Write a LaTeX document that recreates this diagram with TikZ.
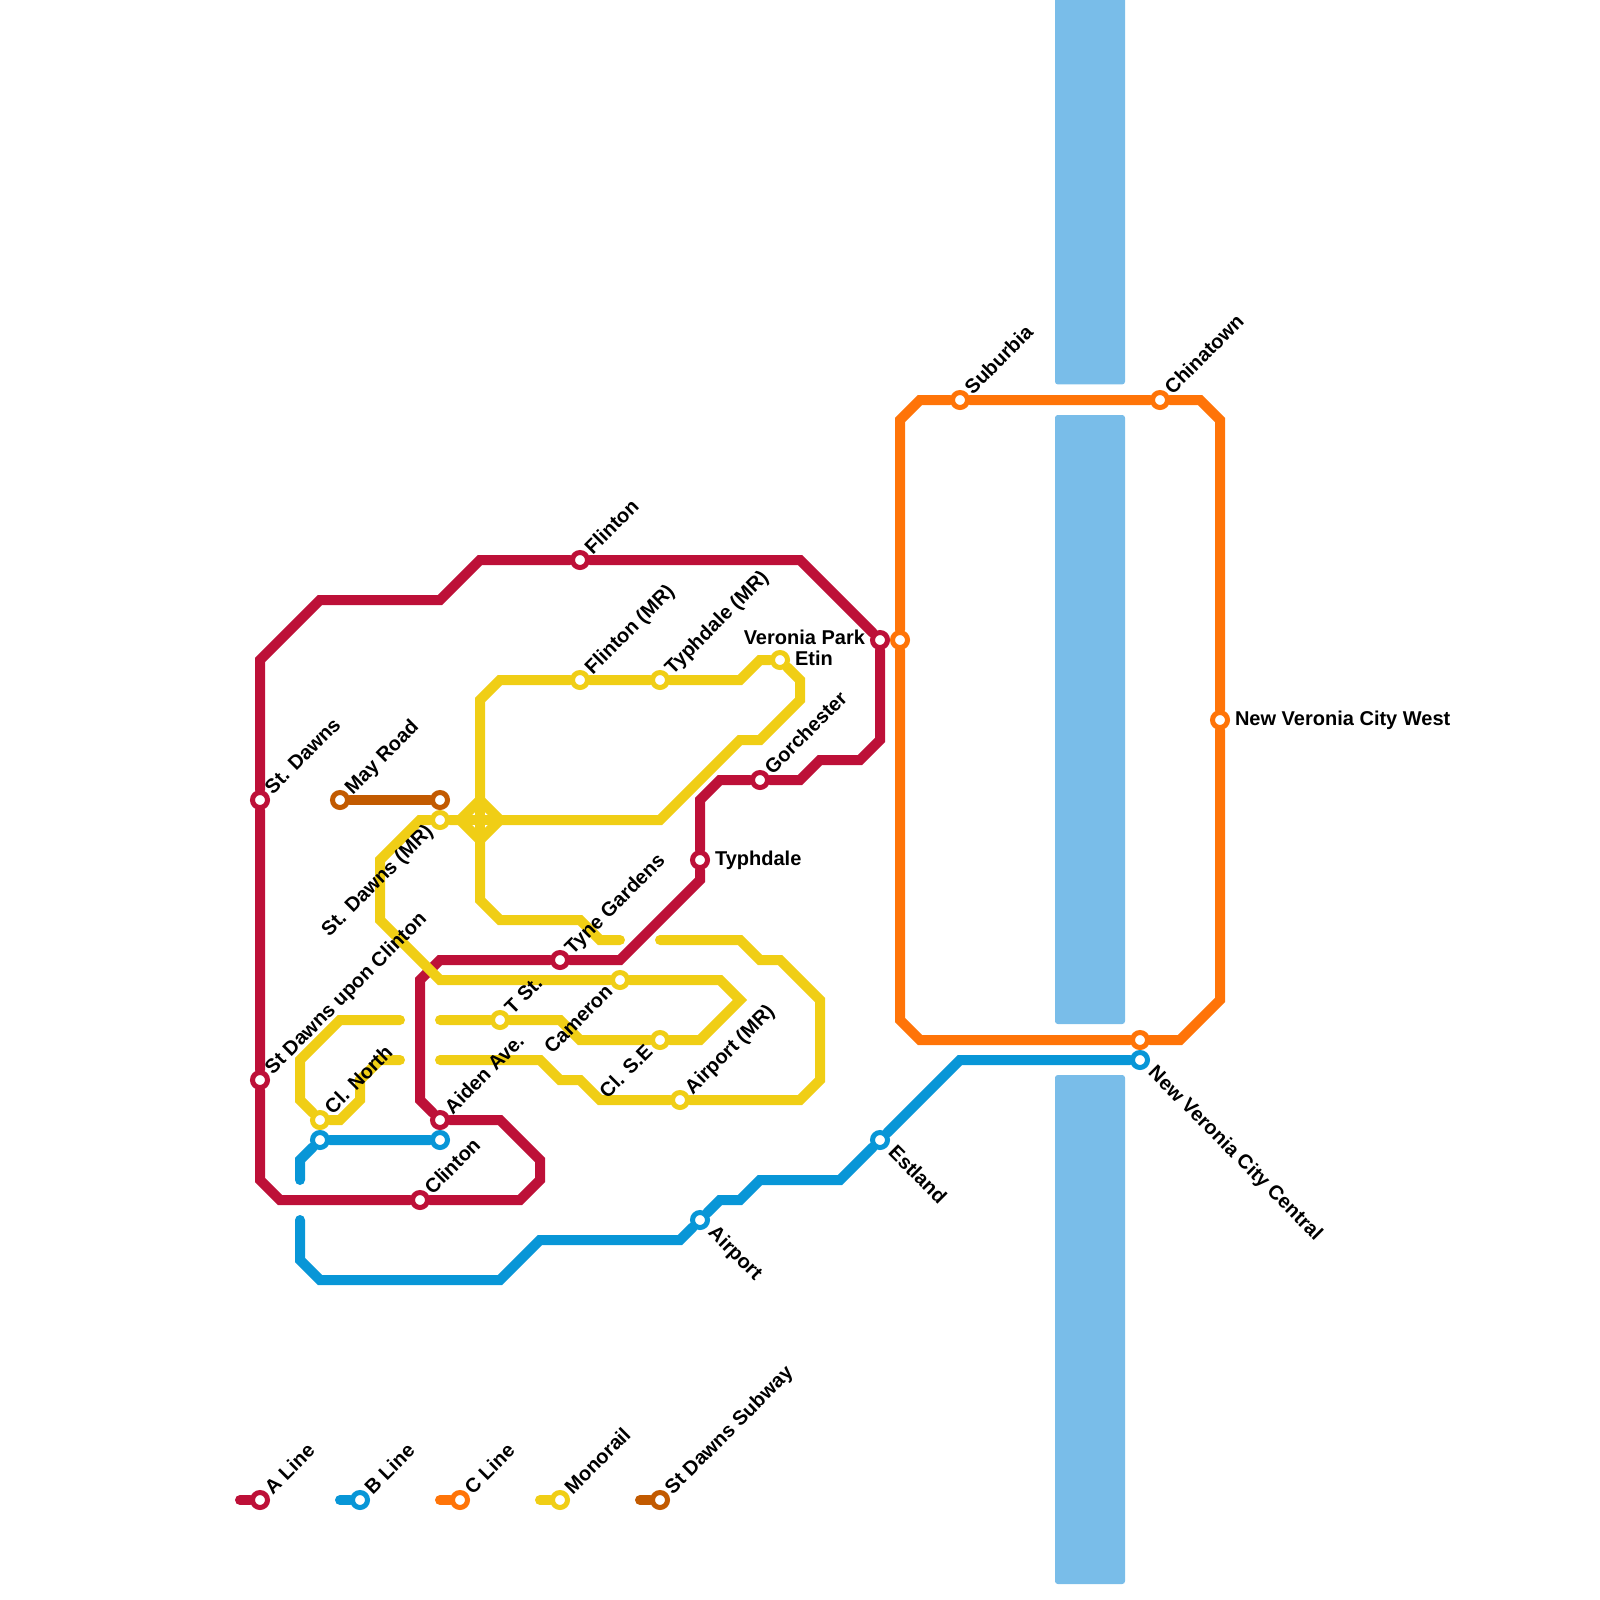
\documentclass[tikz,border=0pt]{standalone}
\usepackage{fontspec}
\setmainfont{Liberation Sans}
\usepackage{tikz}
\usetikzlibrary{
  backgrounds,
  positioning
}
\usepackage{xcolor}
\definecolor{aline}{HTML}{BD1038}
\definecolor{bline}{HTML}{0896D7}
\definecolor{cline}{HTML}{FF7408}
\definecolor{mono}{HTML}{F0CE15}
\definecolor{subway}{HTML}{C25A00}
\definecolor{river}{HTML}{79BDE9}

\begin{document}
\begin{tikzpicture}[
    x=0.5cm, y=-0.5cm,
    every node/.style={font=\bfseries\fontsize{14.23}{17}\selectfont, text=black},
    stn/.style={circle, draw, fill=white, line width=3.56pt, minimum size=10.67pt, inner sep=0pt},
    lblup/.style={rotate=45, anchor=base west, inner sep=0pt, xshift=8.7pt, yshift=-4pt},
    lblback/.style={rotate=45, anchor=base east, inner sep=0pt, xshift=-9.5pt, yshift=-3.4pt},
    lbldown/.style={rotate=-45, anchor=base west, inner sep=0pt, xshift=10.5pt, yshift=-3.3pt},
    lblright/.style={anchor=base west, inner sep=0pt, xshift=10.5pt, yshift=-3.6pt},
    lblleft/.style={anchor=base east, inner sep=0pt, xshift=-10.5pt, yshift=-3.4pt},
    ln/.style={line width=7.11pt, line cap=round, line join=miter}
  ]
    \useasboundingbox (0,0) rectangle (80,80);
    % A line stations
    \node[stn, draw=aline] (stdawns) at (13,40) {};
    \node[stn, draw=aline] (upon) at (13,54) {};
    \node[stn, draw=aline] (clinton) at (21,60) {};
    \node[stn, draw=aline] (aiden) at (22,56) {};
    \node[stn, draw=aline] (tyne) at (28,48) {};
    \node[stn, draw=aline] (typhdale) at (35,43) {};
    \node[stn, draw=aline] (gorchester) at (38,39) {};
    \node[stn, draw=aline] (veronia) at (44,32) {};
    \node[stn, draw=aline] (flinton) at (29,28) {};
    % B line stations
    \node[stn, draw=bline] (bnorth) at (16,57) {};
    \node[stn, draw=bline] (bclinton) at (22,57) {};
    \node[stn, draw=bline] (airport) at (35,61) {};
    \node[stn, draw=bline] (estland) at (44,57) {};
    \node[stn, draw=bline] (central) at (57,53) {};
    % C line stations
    \node[stn, draw=cline] (cveronia) at (45,32) {};
    \node[stn, draw=cline] (suburbia) at (48,20) {};
    \node[stn, draw=cline] (chinatown) at (58,20) {};
    \node[stn, draw=cline] (nvwest) at (61,36) {};
    \node[stn, draw=cline] (ccentral) at (57,52) {};
    % monorail stations
    \node[stn, draw=mono] (flintonmr) at (29,34) {};
    \node[stn, draw=mono] (typhmr) at (33,34) {};
    \node[stn, draw=mono] (etin) at (39,33) {};
    \node[stn, draw=mono] (dawnsmr) at (22,41) {};
    \node[stn, draw=mono] (cameron) at (31,49) {};
    \node[stn, draw=mono] (tst) at (25,51) {};
    \node[stn, draw=mono] (clse) at (33,52) {};
    \node[stn, draw=mono] (airportmr) at (34,55) {};
    \node[stn, draw=mono] (clnorth) at (16,56) {};
    % subway stations
    \node[stn, draw=subway] (mayroad) at (17,40) {};
    \node[stn, draw=subway] (dawnssub) at (22,40) {};
    % legend stations
    \node[stn, draw=aline] (keya) at (13,75) {};
    \node[stn, draw=bline] (keyb) at (18,75) {};
    \node[stn, draw=cline] (keyc) at (23,75) {};
    \node[stn, draw=mono] (keym) at (28,75) {};
    \node[stn, draw=subway] (keys) at (33,75) {};
    \coordinate (enda) at (12,75);
    \coordinate (endb) at (17,75);
    \coordinate (endc) at (22,75);
    \coordinate (endm) at (27,75);
    \coordinate (ends) at (32,75);
    % river and lines go under the stations
    \begin{scope}[on background layer]
      \fill[river, rounded corners=2pt] (52.75,-1) -- (56.25,-1) -- (56.25,19.22) -- (52.75,19.22) -- cycle;
      \fill[river, rounded corners=2pt] (52.75,20.75) -- (56.25,20.75) -- (56.25,51.2) -- (52.75,51.2) -- cycle;
      \fill[river, rounded corners=2pt] (52.75,53.75) -- (56.25,53.75) -- (56.25,79.2) -- (52.75,79.2) -- cycle;
      \draw[ln, aline] (stdawns) -- (upon) -- (13,59) -- (14,60) -- (clinton) -- (26,60) -- (27,59) -- (27,58)
        -- (25,56) -- (aiden) -- (21,55) -- (21,49) -- (22,48) -- (tyne) -- (31,48) -- (35,44) -- (typhdale)
        -- (35,40) -- (36,39) -- (gorchester) -- (40,39) -- (41,38) -- (43,38) -- (44,37) -- (veronia)
        -- (40,28) -- (flinton) -- (24,28) -- (22,30) -- (16,30) -- (13,33) -- (stdawns);
      \draw[ln, bline] (15,59) -- (15,58) -- (bnorth) -- (bclinton);
      \draw[ln, bline] (15,61) -- (15,63) -- (16,64) -- (25,64) -- (27,62) -- (34,62) -- (airport) -- (36,60)
        -- (37,60) -- (38,59) -- (42,59) -- (estland) -- (48,53) -- (central);
      \draw[ln, cline] (cveronia) -- (45,21) -- (46,20) -- (suburbia) -- (chinatown) -- (60,20) -- (61,21) -- (nvwest)
        -- (61,50) -- (59,52) -- (ccentral) -- (46,52) -- (45,51) -- (cveronia);
      \draw[ln, mono] (24,40) -- (25,41) -- (24,42) -- (23,41) -- cycle;
      \draw[ln, mono] (24,40) -- (24,42);
      \draw[ln, mono] (23,41) -- (25,41);
      \draw[ln, mono] (24,40) -- (24,35) -- (25,34) -- (flintonmr) -- (typhmr) -- (37,34) -- (38,33) -- (etin)
        -- (40,34) -- (40,35) -- (38,37) -- (37,37) -- (33,41) -- (25,41);
      \draw[ln, mono] (24,42) -- (24,45) -- (25,46) -- (29,46) -- (30,47) -- (31,47);
      \draw[ln, mono] (33,47) -- (37,47) -- (38,48) -- (39,48) -- (41,50) -- (41,54) -- (40,55) -- (airportmr)
        -- (30,55) -- (29,54) -- (28,54) -- (27,53) -- (22,53);
      \draw[ln, mono] (23,41) -- (dawnsmr) -- (21,41) -- (19,43) -- (19,46) -- (22,49) -- (cameron) -- (36,49)
        -- (37,50) -- (35,52) -- (clse) -- (29,52) -- (28,51) -- (tst) -- (22,51);
      \draw[ln, mono] (20,51) -- (17,51) -- (15,53) -- (15,55) -- (clnorth) -- (17,56) -- (18,55) -- (18,54)
        -- (19,53) -- (20,53);
      \draw[ln, subway] (mayroad) -- (dawnssub);
      % legend lines
      \draw[ln, aline] (enda) -- (keya);
      \draw[ln, bline] (endb) -- (keyb);
      \draw[ln, cline] (endc) -- (keyc);
      \draw[ln, mono] (endm) -- (keym);
      \draw[ln, subway] (ends) -- (keys);
    \end{scope}
    % labels
    \node[lblup] (lstdawns) at (stdawns) {St. Dawns};
    \node[lblup] (lupon) at (upon) {St Dawns upon Clinton};
    \node[lblup] (lclinton) at (clinton) {Clinton};
    \node[lblup] (laiden) at (aiden) {Aiden Ave.};
    \node[lblup] (ltyne) at (tyne) {Tyne Gardens};
    \node[lblright] (ltyphdale) at (typhdale) {Typhdale};
    \node[lblup] (lgorchester) at (gorchester) {Gorchester};
    \node[lblleft] (lveronia) at (veronia) {Veronia Park};
    \node[lblup] (lflinton) at (flinton) {Flinton};
    \node[lbldown] (lairport) at (airport) {Airport};
    \node[lbldown] (lestland) at (estland) {Estland};
    \node[lbldown] (lcentral) at (central) {New Veronia City Central};
    \node[lblup] (lsuburbia) at (suburbia) {Suburbia};
    \node[lblup] (lchinatown) at (chinatown) {Chinatown};
    \node[lblright] (lnvwest) at (nvwest) {New Veronia City West};
    \node[lblup] (lflintonmr) at (flintonmr) {Flinton (MR)};
    \node[lblup] (ltyphmr) at (typhmr) {Typhdale (MR)};
    \node[lblright] (letin) at (etin) {Etin};
    \node[lblback] (ldawnsmr) at (dawnsmr) {St. Dawns (MR)};
    \node[lblback] (lcameron) at (cameron) {Cameron};
    \node[lblup] (ltst) at (tst) {T St.};
    \node[lblback] (lclse) at (clse) {Cl. S.E};
    \node[lblup] (lairportmr) at (airportmr) {Airport (MR)};
    \node[lblup] (lclnorth) at (clnorth) {Cl. North};
    \node[lblup] (lmayroad) at (mayroad) {May Road};
    \node[lblup] (lkeya) at (keya) {A Line};
    \node[lblup] (lkeyb) at (keyb) {B Line};
    \node[lblup] (lkeyc) at (keyc) {C Line};
    \node[lblup] (lkeym) at (keym) {Monorail};
    \node[lblup] (lkeys) at (keys) {St Dawns Subway};
\end{tikzpicture}
\end{document}
